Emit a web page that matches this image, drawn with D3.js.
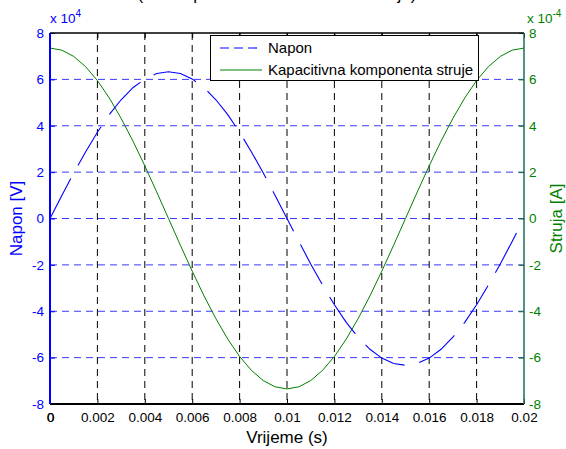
<!DOCTYPE html>
<html>
<head>
<meta charset="utf-8">
<script src="https://cdn.jsdelivr.net/npm/d3@7"></script>
<style>
  body { margin: 0; background: #fff; }
  svg { display: block; font-family: "Liberation Sans", Arial, Helvetica, sans-serif; }
</style>
</head>
<body>
<svg id="chart" width="566" height="449"></svg>
<script>
// Sample times (s)
const time = [0, 0.0005, 0.001, 0.0015, 0.002, 0.0025, 0.003, 0.0035, 0.004, 0.0045,
  0.005, 0.0055, 0.006, 0.0065, 0.007, 0.0075, 0.008, 0.0085, 0.009, 0.0095,
  0.01, 0.0105, 0.011, 0.0115, 0.012, 0.0125, 0.013, 0.0135, 0.014, 0.0145,
  0.015, 0.0155, 0.016, 0.0165, 0.017, 0.0175, 0.018, 0.0185, 0.019, 0.0195, 0.02];

// Voltage, in units of 10^4 V
const napon = [0, 0.99, 1.96, 2.87, 3.72, 4.48, 5.12, 5.64, 6.02, 6.25,
  6.33, 6.25, 6.02, 5.64, 5.12, 4.48, 3.72, 2.87, 1.96, 0.99,
  0, -0.99, -1.96, -2.87, -3.72, -4.48, -5.12, -5.64, -6.02, -6.25,
  -6.33, -6.25, -6.02, -5.64, -5.12, -4.48, -3.72, -2.87, -1.96, -0.99, 0];

// Capacitive current component, in units of 10^-4 A
const struja = [7.35, 7.26, 6.99, 6.55, 5.95, 5.20, 4.32, 3.34, 2.27, 1.15,
  0, -1.15, -2.27, -3.34, -4.32, -5.20, -5.95, -6.55, -6.99, -7.26,
  -7.35, -7.26, -6.99, -6.55, -5.95, -5.20, -4.32, -3.34, -2.27, -1.15,
  0, 1.15, 2.27, 3.34, 4.32, 5.20, 5.95, 6.55, 6.99, 7.26, 7.35];

const naponExp = 4;
const strujaExp = -4;

const xTicks = [0, 0.002, 0.004, 0.006, 0.008, 0.01, 0.012, 0.014, 0.016, 0.018, 0.02];
const xTickLabels = ["0", "0.002", "0.004", "0.006", "0.008", "0.01", "0.012", "0.014", "0.016", "0.018", "0.02"];
const yTicks = [-8, -6, -4, -2, 0, 2, 4, 6, 8];
const yTickLabels = ["-8", "-6", "-4", "-2", "0", "2", "4", "6", "8"];

const seriesNames = ["Napon", "Kapacitivna komponenta struje"];
const titleText = "(Tok napona i kondenzatorske struje)";
const xLabel = "Vrijeme (s)";
const yLeftLabel = "Napon [V]";
const yRightLabel = "Struja [A]";

const BLUE = "#0000ff";
const GREEN = "#008000";

const L = 50, R = 524, T = 33, B = 404;
const TICK_FONT = 13.5;

const svg = d3.select("#chart");

const x = d3.scaleLinear().domain([0, 0.02]).range([L, R]);
const yL = d3.scaleLinear().domain([-8 * 10 ** naponExp, 8 * 10 ** naponExp]).range([B, T]);
const yR = d3.scaleLinear().domain([-8 * 10 ** strujaExp, 8 * 10 ** strujaExp]).range([B, T]);

// Grid
const grid = svg.append("g");
grid.selectAll("line.h").data(yTicks.filter(v => Math.abs(v) < 8)).join("line")
  .attr("x1", L).attr("x2", R)
  .attr("y1", d => yL(d * 10 ** naponExp)).attr("y2", d => yL(d * 10 ** naponExp))
  .attr("stroke", "#3838ff").attr("stroke-width", 1).attr("stroke-dasharray", "7,5");
grid.selectAll("line.v").data(xTicks.slice(1, -1)).join("line")
  .attr("x1", d => x(d)).attr("x2", d => x(d))
  .attr("y1", T).attr("y2", B)
  .attr("stroke", "#000").attr("stroke-width", 1).attr("stroke-dasharray", "7,5");

// Series
const naponLine = d3.line().x((d, i) => x(time[i])).y(d => yL(d * 10 ** naponExp));
const strujaLine = d3.line().x((d, i) => x(time[i])).y(d => yR(d * 10 ** strujaExp));

svg.append("path").datum(struja).attr("d", strujaLine)
  .attr("fill", "none").attr("stroke", GREEN).attr("stroke-width", 1);
svg.append("path").datum(napon).attr("d", naponLine)
  .attr("fill", "none").attr("stroke", BLUE).attr("stroke-width", 1.1)
  .attr("stroke-dasharray", "45,15");

// Axes
const axL = svg.append("g").attr("transform", `translate(${L},0)`)
  .call(d3.axisLeft(yL).tickValues(yTicks.map(v => v * 10 ** naponExp))
    .tickSize(-5).tickPadding(6).tickFormat((d, i) => yTickLabels[i]));
axL.select(".domain").remove();
axL.selectAll("line").attr("stroke", BLUE);
axL.selectAll("text").attr("fill", BLUE).attr("font-size", TICK_FONT);

const axR = svg.append("g").attr("transform", `translate(${R},0)`)
  .call(d3.axisRight(yR).tickValues(yTicks.map(v => v * 10 ** strujaExp))
    .tickSize(-5).tickPadding(5).tickFormat((d, i) => yTickLabels[i]));
axR.select(".domain").remove();
axR.selectAll("line").attr("stroke", GREEN);
axR.selectAll("text").attr("fill", GREEN).attr("font-size", TICK_FONT);

const axB = svg.append("g").attr("transform", `translate(0,${B})`)
  .call(d3.axisBottom(x).tickValues(xTicks).tickSize(-5).tickPadding(8)
    .tickFormat((d, i) => xTickLabels[i]));
axB.select(".domain").remove();
axB.selectAll("line").attr("stroke", "#000");
axB.selectAll("text").attr("fill", "#000").attr("font-size", TICK_FONT);
// the right-hand axes repeat the zero time label, drawn slightly offset
svg.append("text").attr("x", x(0) + 0.8).attr("y", B + 8).attr("dy", "0.71em")
  .attr("text-anchor", "middle").attr("font-size", TICK_FONT).attr("fill", "#000").text(xTickLabels[0]);

const axT = svg.append("g").attr("transform", `translate(0,${T})`)
  .call(d3.axisTop(x).tickValues(xTicks).tickSize(-5).tickFormat(""));
axT.select(".domain").remove();
axT.selectAll("line").attr("stroke", "#000");

// Frame
svg.append("line").attr("x1", L).attr("x2", R).attr("y1", T).attr("y2", T)
  .attr("stroke", "#000").attr("stroke-width", 1.5);
svg.append("line").attr("x1", L).attr("x2", R).attr("y1", B).attr("y2", B)
  .attr("stroke", "#000").attr("stroke-width", 2);
svg.append("line").attr("x1", L).attr("x2", L).attr("y1", T).attr("y2", B)
  .attr("stroke", BLUE).attr("stroke-width", 2);
svg.append("line").attr("x1", R).attr("x2", R).attr("y1", T).attr("y2", B)
  .attr("stroke", "#1d6a5e").attr("stroke-width", 1.5);

// Exponent labels
const expL = svg.append("text").attr("x", L).attr("y", 23).attr("fill", BLUE).attr("font-size", 13.5);
expL.append("tspan").text("x 10");
expL.append("tspan").attr("dy", -6).attr("font-size", 10).text(String(naponExp));
const expR = svg.append("text").attr("x", R + 3).attr("y", 23).attr("fill", GREEN).attr("font-size", 13.5);
expR.append("tspan").text("x 10");
expR.append("tspan").attr("dy", -6).attr("font-size", 10).text(String(strujaExp));

// Axis labels
svg.append("text").attr("x", (L + R) / 2).attr("y", 443).attr("text-anchor", "middle")
  .attr("font-size", 17).attr("fill", "#000").text(xLabel);
svg.append("text").attr("transform", `translate(22,${(T + B) / 2}) rotate(-90)`)
  .attr("text-anchor", "middle").attr("font-size", 17).attr("fill", BLUE).text(yLeftLabel);
svg.append("text").attr("transform", `translate(562,${(T + B) / 2}) rotate(-90)`)
  .attr("text-anchor", "middle").attr("font-size", 17).attr("fill", GREEN).text(yRightLabel);

// Title (sits above the top edge of the figure)
svg.append("text").attr("x", (L + R) / 2 - 10).attr("y", 0).attr("text-anchor", "middle")
  .attr("font-size", 17).attr("fill", "#000").text(titleText);

// Legend
const lg = svg.append("g");
lg.append("rect").attr("x", 210.5).attr("y", 35.5).attr("width", 268).attr("height", 45)
  .attr("fill", "#fff").attr("stroke", "#000").attr("stroke-width", 1);
const legendRows = [
  { name: seriesNames[0], color: BLUE, dash: "9,5", y: 48 },
  { name: seriesNames[1], color: GREEN, dash: null, y: 70 }
];
legendRows.forEach(r => {
  lg.append("line").attr("x1", 220).attr("x2", 262).attr("y1", r.y).attr("y2", r.y)
    .attr("stroke", r.color).attr("stroke-width", 1.2).attr("stroke-dasharray", r.dash);
  lg.append("text").attr("x", 268).attr("y", r.y + 5).attr("font-size", 15)
    .attr("fill", "#000").text(r.name);
});
</script>
</body>
</html>
